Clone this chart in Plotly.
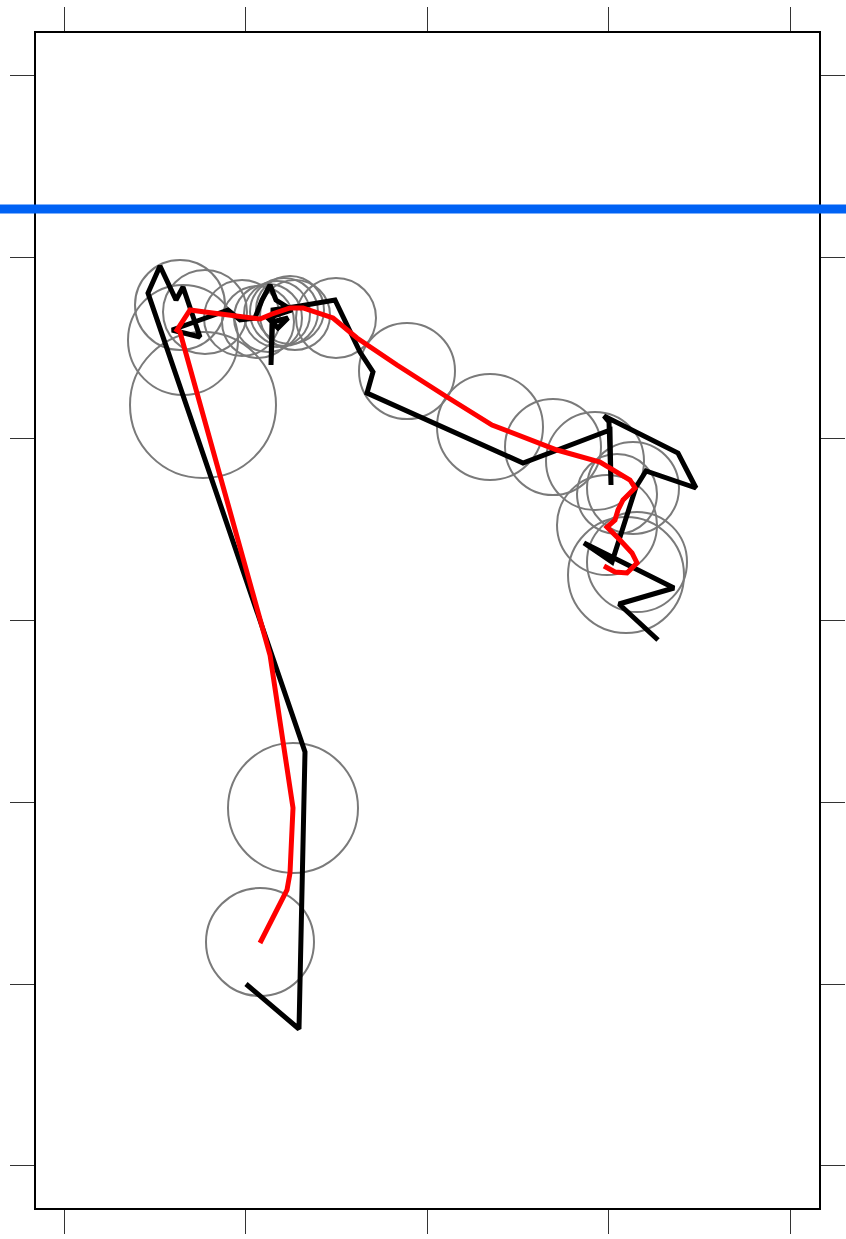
import plotly.graph_objects as go

# Values (pixel-like data units, y grows downward)
black_x = [246, 299, 305, 148, 160, 176, 183, 200, 172, 228, 240, 255, 262, 270,
           276, 292, 268, 278, 288, 272, 271, 273, 300, 335, 360, 373, 367, 523,
           610, 611, 609, 604, 678, 696, 646, 636, 612, 584, 674, 619, 658]
black_y = [984, 1029, 752, 293, 266, 300, 287, 337, 330, 310, 320, 318, 300, 285,
           300, 310, 318, 328, 318, 322, 365, 310, 306, 300, 352, 372, 393, 463,
           430, 485, 422, 416, 453, 488, 471, 487, 562, 543, 588, 604, 640]

red_x = [260, 287, 290, 293, 270, 180, 177, 190, 205, 230, 250, 260, 272, 290, 303,
         320, 333, 357, 397, 447, 492, 557, 600, 630, 635, 623, 618, 615, 607, 620,
         632, 637, 627, 615, 604]
red_y = [943, 890, 873, 808, 655, 332, 330, 310, 312, 315, 318, 319, 314, 308, 308,
         313, 318, 338, 365, 397, 425, 450, 462, 480, 488, 500, 510, 520, 527, 540,
         553, 563, 573, 572, 566]

circle_x = [260, 293, 203, 183, 180, 205, 242, 258, 268, 277, 284, 290, 295, 336,
            407, 490, 553, 595, 617, 633, 607, 637, 626]
circle_y = [942, 808, 405, 340, 305, 312, 318, 322, 318, 314, 312, 310, 315, 318,
            371, 427, 447, 461, 494, 488, 525, 562, 575]
circle_r = [54, 65, 73, 55, 45, 42, 38, 36, 34, 33, 34, 34, 35, 40,
            48, 53, 48, 49, 40, 46, 50, 50, 58]

x_ticks = [64, 245.5, 427, 608.5, 790]
y_ticks = [75, 257, 438, 620, 802, 984, 1165]
x_range = [36, 819]
y_range = [1208, 33]
blue_level = 209

fig = go.Figure()
fig.add_trace(go.Scatter(
    x=circle_x, y=circle_y, mode="markers",
    marker=dict(symbol="circle-open", size=[2 * r for r in circle_r],
                color="#7a7a7a", opacity=1, line=dict(width=2, color="#7a7a7a")),
    hoverinfo="skip", showlegend=False))
fig.add_trace(go.Scatter(
    x=black_x, y=black_y, mode="lines",
    line=dict(color="black", width=5), showlegend=False))
fig.add_trace(go.Scatter(
    x=red_x, y=red_y, mode="lines",
    line=dict(color="#ff0000", width=5), showlegend=False))

fig.add_shape(type="line", xref="paper", yref="y", x0=-0.2, x1=1.2,
              y0=blue_level, y1=blue_level,
              line=dict(color="#0062f5", width=9), layer="above")

axis_common = dict(showgrid=False, zeroline=False, showline=True, linecolor="black",
                   linewidth=2, mirror="allticks", ticks="outside", ticklen=24,
                   tickwidth=1, tickcolor="#333333", showticklabels=False,
                   automargin=False)
fig.update_xaxes(range=x_range, tickvals=x_ticks, **axis_common)
fig.update_yaxes(range=y_range, tickvals=y_ticks, **axis_common)

fig.update_layout(width=846, height=1239, margin=dict(l=36, r=27, t=33, b=31),
                  paper_bgcolor="white", plot_bgcolor="white")
fig.write_html("out.html")
